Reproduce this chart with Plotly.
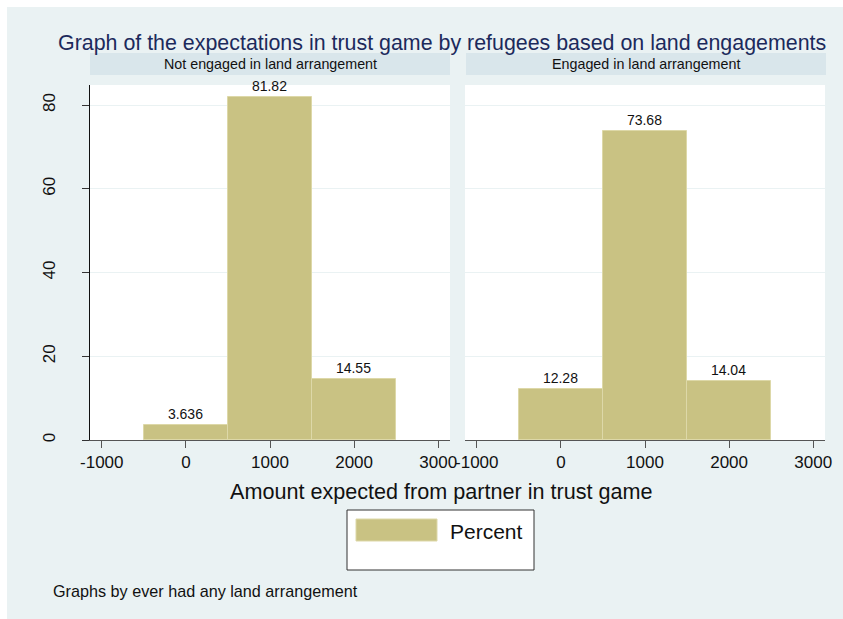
import plotly.graph_objects as go

# Canvas size in pixels
W, H = 843, 619

# Histogram bins (centres, width 1000) and percentages per group
bin_centers = [0, 1000, 2000]
bin_width = 1000
not_engaged_pct = [3.636, 81.82, 14.55]
engaged_pct = [12.28, 73.68, 14.04]
panel_titles = ["Not engaged in land arrangement", "Engaged in land arrangement"]
x_ticks = [-1000, 0, 1000, 2000, 3000]
x_tick_text = ["-1000", "0", "1000", "2000", "3000"]
y_ticks = [0, 20, 40, 60, 80]

FONT = "Arial, Liberation Sans, sans-serif"
BG = "#EAF2F3"
STRIP = "#D9E6EB"
BAR_FILL = "#C9C283"
BAR_EDGE = "#DDD8A8"
TITLE_COL = "#1C2A5C"


def fx(p):
    return p / W


def fy(p):
    return 1 - p / H


fig = go.Figure()

for i, vals in enumerate([not_engaged_pct, engaged_pct]):
    sfx = "" if i == 0 else "2"
    fig.add_trace(go.Bar(
        x=bin_centers, y=vals, width=[bin_width] * len(vals),
        marker=dict(color=BAR_FILL, line=dict(color=BAR_EDGE, width=1)),
        text=[f"{v:g}" for v in vals], textposition="outside",
        textfont=dict(family=FONT, size=14, color="#111"),
        cliponaxis=False, showlegend=False,
        xaxis="x" + sfx, yaxis="y" + sfx, hoverinfo="skip",
    ))

panel_px = [(90, 450), (465, 825)]
plot_top, plot_bottom = 85, 440
x_range = [-1140, 3140]
y_range = [0, (plot_bottom - plot_top) / ((plot_bottom - 105) / 80)]

common_x = dict(
    range=x_range, tickvals=x_ticks, ticktext=x_tick_text,
    ticks="outside", ticklen=7, automargin=False,
    tickcolor="#555", showline=True, linecolor="#555", linewidth=1,
    showgrid=False, zeroline=False,
    tickfont=dict(family=FONT, size=17, color="#111"),
)
common_y = dict(
    range=y_range, tickvals=y_ticks, showgrid=True, gridcolor=BG,
    gridwidth=1, zeroline=False, automargin=False,
    domain=[fy(plot_bottom), fy(plot_top)],
)

fig.update_layout(
    xaxis=dict(domain=[fx(panel_px[0][0]), fx(panel_px[0][1])], anchor="y", **common_x),
    xaxis2=dict(domain=[fx(panel_px[1][0]), fx(panel_px[1][1])], anchor="y2", **common_x),
    yaxis=dict(anchor="x", ticks="outside", ticklen=7, tickcolor="#333",
               showline=True, linecolor="#111", linewidth=1,
               tickangle=-90, ticklabelstandoff=20,
               tickfont=dict(family=FONT, size=17, color="#111"), **common_y),
    yaxis2=dict(anchor="x2", showticklabels=False, ticks="", showline=False,
                **common_y),
)

shapes = [
    # white outer margin on the top and left edges
    dict(type="rect", xref="paper", yref="paper", x0=0, x1=1, y0=fy(7), y1=1,
         fillcolor="white", line=dict(width=0), layer="below"),
    dict(type="rect", xref="paper", yref="paper", x0=0, x1=fx(7), y0=0, y1=1,
         fillcolor="white", line=dict(width=0), layer="below"),
]
annotations = []

# panel header strips
for (x0, x1), title in zip([(90, 450), (466, 826)], panel_titles):
    shapes.append(dict(type="rect", xref="paper", yref="paper",
                       x0=fx(x0), x1=fx(x1), y0=fy(75), y1=fy(53),
                       fillcolor=STRIP, line=dict(width=0), layer="below"))
    annotations.append(dict(text=title, xref="paper", yref="paper",
                            x=fx((x0 + x1) / 2), y=fy(64), showarrow=False,
                            xanchor="center", yanchor="middle",
                            font=dict(family=FONT, size=14.3, color="#111")))

# legend box
shapes.append(dict(type="rect", xref="paper", yref="paper",
                   x0=fx(347), x1=fx(534), y0=fy(570), y1=fy(510),
                   fillcolor="white", line=dict(color="#333", width=1)))
shapes.append(dict(type="rect", xref="paper", yref="paper",
                   x0=fx(356), x1=fx(437), y0=fy(541), y1=fy(519),
                   fillcolor=BAR_FILL, line=dict(color=BAR_EDGE, width=1)))
annotations.append(dict(text="Percent", xref="paper", yref="paper",
                        x=fx(448), y=fy(531), showarrow=False,
                        xanchor="left", yanchor="middle",
                        font=dict(family=FONT, size=21, color="#111")))

# title, axis title and note
annotations.append(dict(
    text="Graph of the expectations in trust game by refugees based on land engagements",
    xref="paper", yref="paper", x=fx(442), y=fy(43), showarrow=False,
    xanchor="center", yanchor="middle",
    font=dict(family=FONT, size=21.4, color=TITLE_COL)))
annotations.append(dict(
    text="Amount expected from partner in trust game",
    xref="paper", yref="paper", x=fx(441), y=fy(491), showarrow=False,
    xanchor="center", yanchor="middle",
    font=dict(family=FONT, size=21.6, color="#111")))
annotations.append(dict(
    text="Graphs by ever had any land arrangement",
    xref="paper", yref="paper", x=fx(51), y=fy(591), showarrow=False,
    xanchor="left", yanchor="middle",
    font=dict(family=FONT, size=16.2, color="#111")))

fig.update_layout(
    width=W, height=H,
    margin=dict(l=0, r=0, t=0, b=0, pad=0, autoexpand=False),
    paper_bgcolor=BG, plot_bgcolor="white",
    shapes=shapes, annotations=annotations, bargap=0,
    font=dict(family=FONT),
)

# place the chart flush with the page corner, without scrollbars
page_css = (
    "document.body.style.margin='0';"
    "document.body.style.padding='0';"
    "document.documentElement.style.overflow='hidden';"
    "document.body.style.overflow='hidden';"
)

fig.write_html("out.html", post_script=page_css)
